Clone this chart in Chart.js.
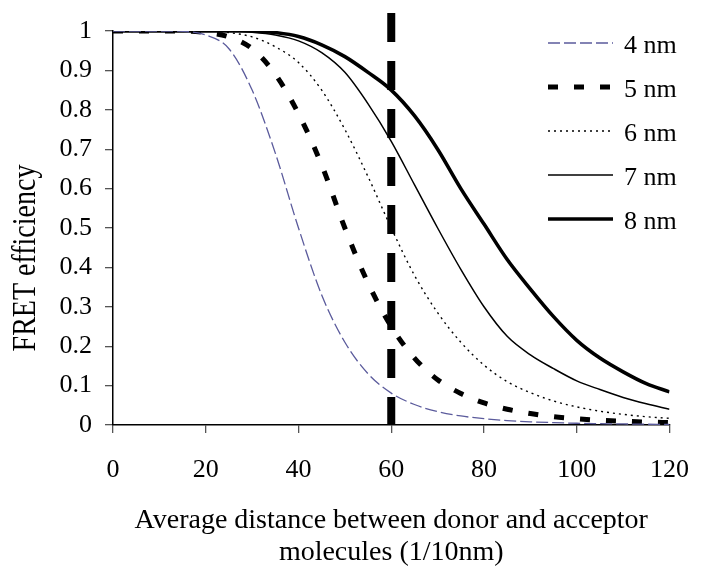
<!DOCTYPE html>
<html><head><meta charset="utf-8">
<script src="https://cdn.jsdelivr.net/npm/chart.js@4/dist/chart.umd.min.js"></script>
<style>html,body{margin:0;padding:0;background:#fff}#wrap{width:711px;height:569px}</style>
</head><body><div id="wrap"><canvas id="c" width="711" height="569"></canvas></div>
<script>
// ---- data ----
const distances = [0,5,10,15,20,25,30,35,40,45,50,55,60,65,70,75,80,85,90,95,100,105,110,115,120];
const fret4nm = [1,1,1,0.999,0.99,0.955,0.85,0.69,0.50,0.33,0.21,0.13,0.081,0.052,0.034,0.023,0.016,0.011,0.008,0.006,0.0045,0.0035,0.0027,0.002,0.0015];
const fret5nm = [1,1,1,1,0.996,0.985,0.955,0.89,0.79,0.66,0.50,0.36,0.25,0.17,0.115,0.08,0.056,0.04,0.029,0.021,0.016,0.012,0.0095,0.0075,0.006];
const fret6nm = [1,1,1,1,1,0.996,0.985,0.96,0.92,0.85,0.75,0.63,0.50,0.38,0.285,0.21,0.152,0.11,0.082,0.061,0.046,0.035,0.027,0.021,0.017];
const fret7nm = [1,1,1,1,1,1,0.997,0.99,0.975,0.945,0.895,0.815,0.72,0.61,0.50,0.395,0.30,0.225,0.178,0.143,0.112,0.09,0.07,0.054,0.04];
const fret8nm = [1,1,1,1,1,1,1,0.996,0.986,0.965,0.935,0.895,0.85,0.785,0.70,0.60,0.51,0.42,0.345,0.275,0.215,0.17,0.135,0.105,0.084];
const seriesLabels = ['4 nm','5 nm','6 nm','7 nm','8 nm'];
const markerX = [60, 60];
const markerY = [1.046, 0];
const xTickValues = [0,20,40,60,80,100,120];
const yTickValues = [0,0.1,0.2,0.3,0.4,0.5,0.6,0.7,0.8,0.9,1];
const xTitle = ['Average distance between donor and acceptor', 'molecules (1/10nm)'];
const yTitle = 'FRET efficiency';

const SERIF = '"Liberation Serif", "Times New Roman", serif';
const pts = arr => arr.map((v, i) => ({x: distances[i], y: v}));

const styles = [
  {color:'#5b5b9c', width:1.3, dash:[12,4]},
  {color:'#000', width:5, dash:[10,16]},
  {color:'#000', width:1.4, dash:[2,4]},
  {color:'#000', width:1.5, dash:[]},
  {color:'#000', width:3.6, dash:[]}
];
const seriesData = [fret4nm, fret5nm, fret6nm, fret7nm, fret8nm];

const datasets = seriesData.map((arr, i) => ({
  label: seriesLabels[i],
  data: pts(arr),
  borderColor: styles[i].color,
  borderWidth: styles[i].width,
  borderDash: styles[i].dash,
  borderCapStyle: 'butt',
  pointRadius: 0,
  fill: false,
  cubicInterpolationMode: 'monotone',
  order: 2
}));
datasets.push({
  label: 'marker',
  data: markerX.map((x, i) => ({x, y: markerY[i]})),
  borderColor: '#000',
  borderWidth: 8,
  borderDash: [29, 19],
  borderCapStyle: 'butt',
  pointRadius: 0,
  fill: false,
  clip: false,
  order: 0
});

const legendPlugin = {
  id: 'customLegend',
  afterDraw(chart) {
    const ctx = chart.ctx;
    const rowsY = [43, 87, 131, 175, 219];
    ctx.save();
    for (let i = 0; i < 5; i++) {
      const ds = chart.data.datasets[i];
      const y = rowsY[i];
      ctx.beginPath();
      ctx.strokeStyle = ds.borderColor;
      ctx.lineWidth = ds.borderWidth;
      ctx.setLineDash(ds.borderDash);
      ctx.lineCap = 'butt';
      ctx.moveTo(548, y);
      ctx.lineTo(613, y);
      ctx.stroke();
      ctx.setLineDash([]);
      ctx.fillStyle = '#000';
      ctx.font = '26px ' + SERIF;
      ctx.textBaseline = 'middle';
      ctx.textAlign = 'left';
      ctx.fillText(ds.label, 624, y + 3);
    }
    // y axis title
    ctx.translate(35, 258);
    ctx.scale(1.2, 1);
    ctx.rotate(-Math.PI / 2);
    ctx.font = '28px ' + SERIF;
    ctx.textAlign = 'center';
    ctx.textBaseline = 'alphabetic';
    ctx.fillText(yTitle, 0, 0);
    ctx.restore();
  }
};

new Chart(document.getElementById('c'), {
  type: 'line',
  data: { datasets },
  options: {
    responsive: false,
    animation: false,
    devicePixelRatio: 1,
    layout: { padding: { top: 31, right: 23, left: 0, bottom: 0 } },
    plugins: { legend: { display: false }, tooltip: { enabled: false } },
    scales: {
      x: {
        type: 'linear', min: 0, max: 120,
        afterBuildTicks: s => { s.ticks = xTickValues.map(v => ({value: v})); },
        afterFit: s => { s.height = 144; },
        ticks: { font: { family: SERIF, size: 26 }, color: '#000', padding: 22, maxRotation: 0 },
        grid: { drawOnChartArea: false, drawTicks: true, tickLength: 8, color: '#555', lineWidth: 1.3 },
        border: { color: '#000', width: 1.5 },
        title: { display: true, text: xTitle, font: { family: SERIF, size: 28, lineHeight: 1.15 }, color: '#000', padding: { top: 0, bottom: 0 } }
      },
      y: {
        type: 'linear', min: 0, max: 1,
        afterBuildTicks: s => { s.ticks = yTickValues.map(v => ({value: v})); },
        afterFit: s => { s.width = 113; },
        ticks: { font: { family: SERIF, size: 26 }, color: '#000', padding: 13, callback: v => String(+v.toFixed(1)) },
        grid: { drawOnChartArea: false, drawTicks: true, tickLength: 8, color: '#555', lineWidth: 1.3 },
        border: { color: '#000', width: 1.5 },
        title: { display: false, text: yTitle }
      }
    }
  },
  plugins: [legendPlugin]
});
</script></body></html>
